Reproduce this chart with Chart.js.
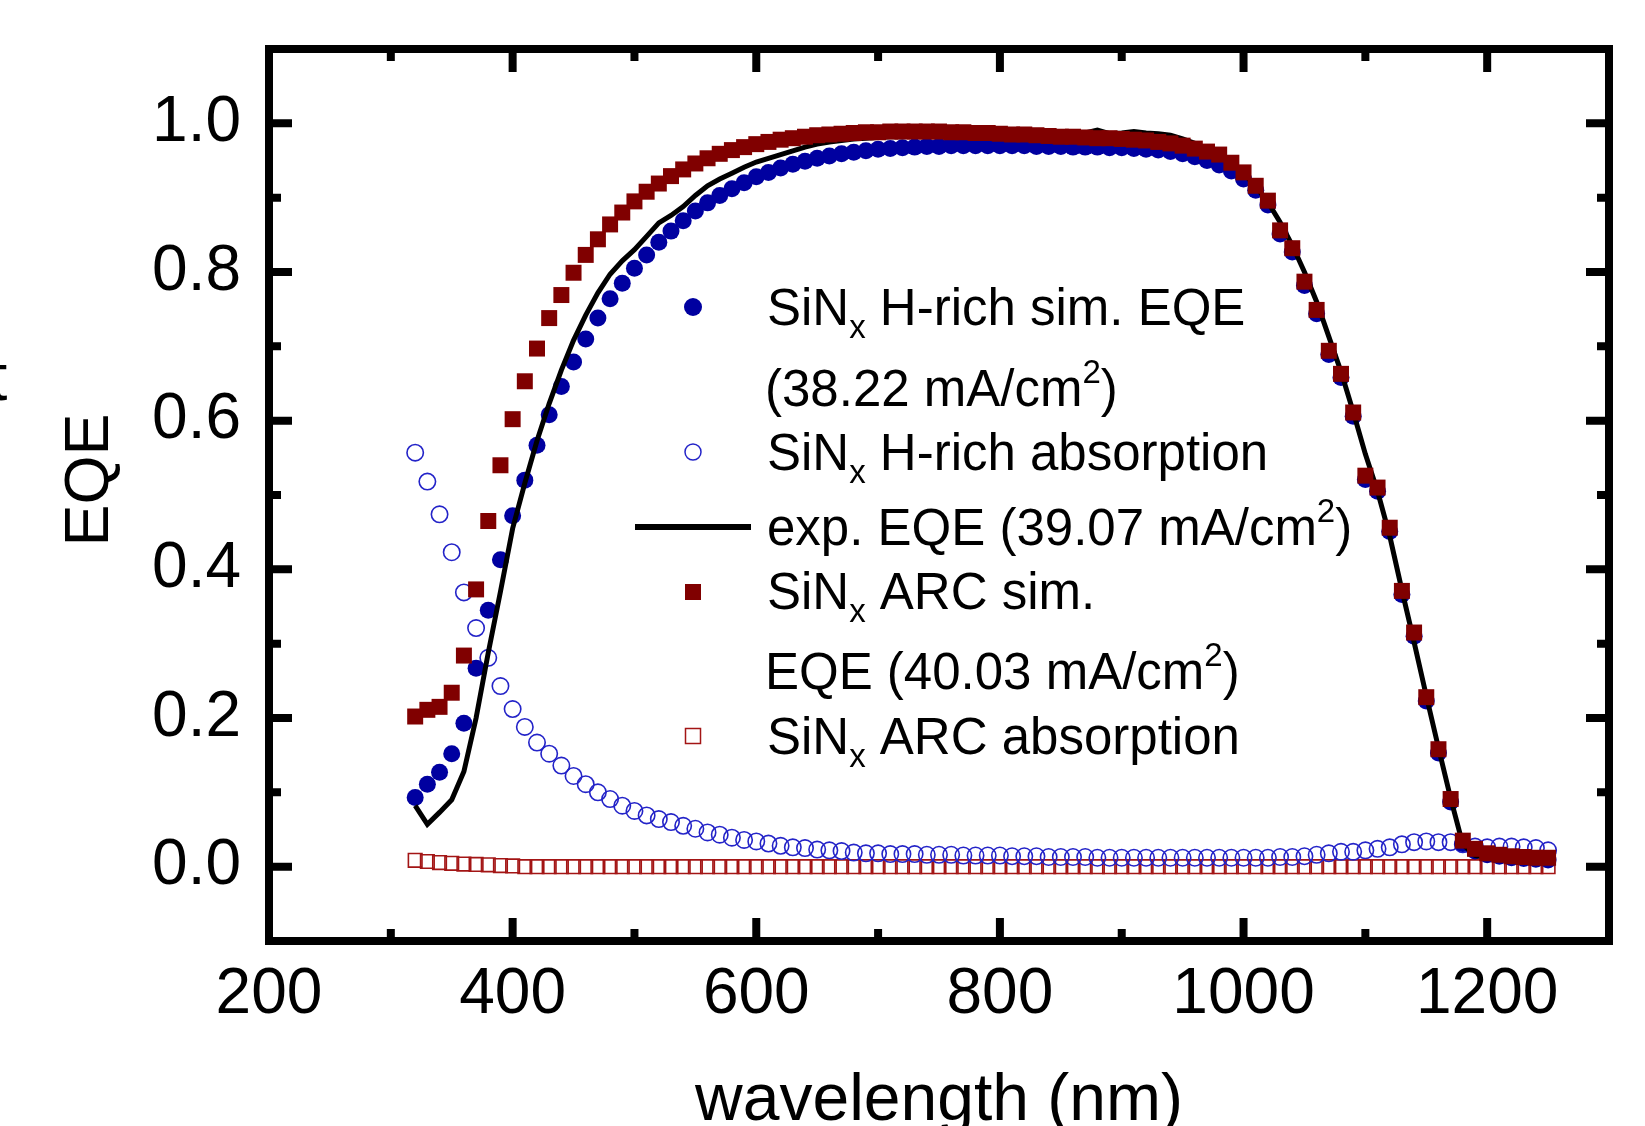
<!DOCTYPE html>
<html>
<head>
<meta charset="utf-8">
<title>EQE vs wavelength</title>
<script src="https://cdn.jsdelivr.net/npm/chart.js@4.4.0/dist/chart.umd.min.js"></script>
<style>
  html, body { margin: 0; padding: 0; background: #fff; }
  #wrap { width: 1645px; height: 1126px; position: relative; }
</style>
</head>
<body>
<div id="wrap"><canvas id="eqeChart" width="1645" height="1126"></canvas></div>
<script>
// wavelength grid (nm), one point every 10 nm
const wavelengths = [
  320, 330, 340, 350, 360, 370, 380, 390, 400, 410, 420, 430, 440, 450, 460, 470, 480, 490, 500, 510,
  520, 530, 540, 550, 560, 570, 580, 590, 600, 610, 620, 630, 640, 650, 660, 670, 680, 690, 700, 710,
  720, 730, 740, 750, 760, 770, 780, 790, 800, 810, 820, 830, 840, 850, 860, 870, 880, 890, 900, 910,
  920, 930, 940, 950, 960, 970, 980, 990, 1000, 1010, 1020, 1030, 1040, 1050, 1060, 1070, 1080, 1090, 1100, 1110,
  1120, 1130, 1140, 1150, 1160, 1170, 1180, 1190, 1200, 1210, 1220, 1230, 1240, 1250
];

// SiNx H-rich sim. EQE (filled blue circles)
const hRichSimEqe = [
  0.093, 0.111, 0.127, 0.152, 0.193, 0.267, 0.345, 0.413, 0.472, 0.520, 0.567, 0.608, 0.646, 0.679, 0.710, 0.738, 0.764, 0.785, 0.805, 0.823,
  0.840, 0.855, 0.869, 0.882, 0.893, 0.903, 0.912, 0.920, 0.928, 0.934, 0.940, 0.945, 0.949, 0.953, 0.956, 0.959, 0.961, 0.963, 0.965, 0.966,
  0.967, 0.968, 0.969, 0.969, 0.970, 0.970, 0.970, 0.970, 0.970, 0.970, 0.970, 0.969, 0.969, 0.969, 0.968, 0.968, 0.968, 0.967, 0.967, 0.966,
  0.965, 0.964, 0.962, 0.959, 0.955, 0.950, 0.944, 0.936, 0.925, 0.910, 0.890, 0.851, 0.827, 0.782, 0.744, 0.689, 0.658, 0.606, 0.521, 0.505,
  0.451, 0.366, 0.310, 0.223, 0.153, 0.087, 0.031, 0.021, 0.016, 0.014, 0.012, 0.011, 0.010, 0.009
];

// SiNx H-rich absorption (open blue circles)
const hRichAbs = [
  0.557, 0.518, 0.474, 0.423, 0.369, 0.321, 0.281, 0.243, 0.212, 0.188, 0.167, 0.152, 0.136, 0.122, 0.111, 0.100, 0.091, 0.082, 0.075, 0.069,
  0.064, 0.060, 0.055, 0.051, 0.046, 0.043, 0.039, 0.036, 0.034, 0.031, 0.028, 0.026, 0.025, 0.023, 0.022, 0.021, 0.019, 0.018, 0.018, 0.017,
  0.017, 0.017, 0.016, 0.016, 0.016, 0.015, 0.015, 0.015, 0.015, 0.014, 0.014, 0.014, 0.013, 0.013, 0.013, 0.013, 0.012, 0.012, 0.012, 0.012,
  0.012, 0.012, 0.012, 0.012, 0.012, 0.012, 0.012, 0.012, 0.012, 0.012, 0.012, 0.013, 0.013, 0.014, 0.016, 0.018, 0.020, 0.020, 0.022, 0.024,
  0.026, 0.030, 0.033, 0.034, 0.033, 0.033, 0.030, 0.027, 0.026, 0.027, 0.027, 0.026, 0.025, 0.022
];

// exp. EQE (black line)
const expEqe = [
  0.082, 0.057, 0.073, 0.090, 0.128, 0.200, 0.288, 0.370, 0.455, 0.516, 0.573, 0.623, 0.668, 0.708, 0.742, 0.772, 0.797, 0.815, 0.830, 0.848,
  0.866, 0.876, 0.888, 0.903, 0.916, 0.925, 0.933, 0.941, 0.948, 0.953, 0.958, 0.963, 0.968, 0.972, 0.975, 0.977, 0.979, 0.980, 0.981, 0.982,
  0.982, 0.983, 0.983, 0.983, 0.984, 0.984, 0.984, 0.984, 0.984, 0.984, 0.984, 0.985, 0.985, 0.985, 0.986, 0.987, 0.991, 0.986, 0.987, 0.989,
  0.987, 0.986, 0.984, 0.979, 0.973, 0.965, 0.956, 0.946, 0.933, 0.915, 0.894, 0.867, 0.836, 0.800, 0.760, 0.713, 0.666, 0.612, 0.555, 0.505,
  0.445, 0.372, 0.302, 0.230, 0.160, 0.092, 0.030, 0.015, 0.012, 0.011, 0.010, 0.009, 0.008, 0.008
];

// SiNx ARC sim. EQE (filled dark red squares)
const arcSimEqe = [
  0.202, 0.211, 0.215, 0.234, 0.284, 0.373, 0.465, 0.540, 0.602, 0.653, 0.697, 0.738, 0.769, 0.799, 0.823, 0.844, 0.864, 0.880, 0.895, 0.908,
  0.919, 0.929, 0.938, 0.946, 0.953, 0.959, 0.964, 0.968, 0.972, 0.975, 0.978, 0.980, 0.982, 0.984, 0.985, 0.986, 0.987, 0.988, 0.988, 0.989,
  0.989, 0.989, 0.989, 0.989, 0.988, 0.988, 0.987, 0.987, 0.986, 0.985, 0.985, 0.984, 0.983, 0.982, 0.982, 0.981, 0.980, 0.980, 0.979, 0.978,
  0.977, 0.975, 0.973, 0.970, 0.966, 0.962, 0.958, 0.947, 0.934, 0.916, 0.896, 0.856, 0.832, 0.787, 0.749, 0.694, 0.663, 0.611, 0.526, 0.510,
  0.456, 0.371, 0.315, 0.228, 0.158, 0.091, 0.035, 0.024, 0.018, 0.016, 0.014, 0.013, 0.012, 0.012
];

// SiNx ARC absorption (open red squares)
const arcAbs = [
  0.0085, 0.007, 0.0055, 0.0045, 0.0035, 0.003, 0.0025, 0.0015, 0.001, 0, 0, 0, 0, 0, 0, 0, 0, 0, 0, 0,
  0, 0, 0, 0, 0, 0, 0, 0, 0, 0, 0, 0, 0, 0, 0, 0, 0, 0, 0, 0,
  0, 0, 0, 0, 0, 0, 0, 0, 0, 0, 0, 0, 0, 0, 0, 0, 0, 0, 0, 0,
  0, 0, 0, 0, 0, 0, 0, 0, 0, 0, 0, 0, 0, 0, 0, 0, 0, 0, 0, 0,
  0, 0, 0, 0, 0, 0, 0, 0, 0, 0, 0, 0, 0, 0
];

const FONT = "'Liberation Sans', Arial, sans-serif";
const BLUE = '#0000a0';
const BLUE_OPEN = '#2323c8';
const RED = '#800000';
const RED_OPEN = '#a31515';

// legend rows: pieces of text, sub = subscript, sup = superscript
const legendRows = [
  { marker: 'dot', my: 307, y: 325, x: 767, text: [{ t: 'SiN' }, { t: 'x', sub: true }, { t: ' H-rich sim. EQE' }] },
  { marker: null, y: 406, x: 765, text: [{ t: '(38.22 mA/cm' }, { t: '2', sup: true }, { t: ')' }] },
  { marker: 'ring', my: 452, y: 470, x: 767, text: [{ t: 'SiN' }, { t: 'x', sub: true }, { t: ' H-rich absorption' }] },
  { marker: 'line', my: 527, y: 545, x: 767, text: [{ t: 'exp. EQE (39.07 mA/cm' }, { t: '2', sup: true }, { t: ')' }] },
  { marker: 'square', my: 592, y: 609, x: 767, text: [{ t: 'SiN' }, { t: 'x', sub: true }, { t: ' ARC sim.' }] },
  { marker: null, y: 689, x: 765, text: [{ t: 'EQE (40.03 mA/cm' }, { t: '2', sup: true }, { t: ')' }] },
  { marker: 'box', my: 736, y: 754, x: 767, text: [{ t: 'SiN' }, { t: 'x', sub: true }, { t: ' ARC absorption' }] }
];

const toPoints = (ys) => wavelengths.map((w, i) => ({ x: w, y: ys[i] }));

function drawRich(ctx, pieces, x, y) {
    let cx = x;
    pieces.forEach(p => {
        const small = p.sub || p.sup;
        ctx.font = `${small ? 33 : 51}px ${FONT}`;
        const dy = p.sub ? 13 : (p.sup ? -23 : 0);
        ctx.fillText(p.t, cx, y + dy);
        cx += ctx.measureText(p.t).width;
    });
}

// frame box + inward ticks on all four sides
const framePlugin = {
    id: 'frameTicks',
    afterDraw(chart) {
        const { ctx, chartArea: a, scales } = chart;
        ctx.save();
        ctx.strokeStyle = '#000';
        ctx.lineWidth = 8;
        ctx.lineCap = 'butt';
        ctx.lineJoin = 'miter';
        ctx.strokeRect(a.left, a.top, a.right - a.left, a.bottom - a.top);

        ctx.beginPath();
        scales.x.ticks.forEach(t => {
            const v = t.value;
            if (v <= scales.x.min || v >= scales.x.max) return;
            const len = v % 200 === 0 ? 23 : 12;
            const px = scales.x.getPixelForValue(v);
            ctx.moveTo(px, a.bottom); ctx.lineTo(px, a.bottom - len);
            ctx.moveTo(px, a.top); ctx.lineTo(px, a.top + len);
        });
        scales.y.ticks.forEach(t => {
            const k = Math.round(t.value * 10);
            if (k <= -1 || k >= 11) return;
            const len = k % 2 === 0 ? 23 : 12;
            const py = scales.y.getPixelForValue(t.value);
            ctx.moveTo(a.left, py); ctx.lineTo(a.left + len, py);
            ctx.moveTo(a.right, py); ctx.lineTo(a.right - len, py);
        });
        ctx.stroke();

        // axis titles
        ctx.fillStyle = '#000';
        ctx.textAlign = 'center';
        ctx.textBaseline = 'alphabetic';
        ctx.font = `66px ${FONT}`;
        ctx.fillText('wavelength (nm)', (a.left + a.right) / 2, 1120);
        ctx.save();
        ctx.translate(108, 480);
        ctx.rotate(-Math.PI / 2);
        ctx.font = `63px ${FONT}`;
        ctx.fillText('EQE', 0, 0);
        ctx.restore();
        // clipped letter at the left edge of the original figure
        ctx.textAlign = 'left';
        ctx.font = `66px ${FONT}`;
        ctx.fillText('t', -11, 400);

        // legend
        legendRows.forEach(r => {
            const mx = 693;
            if (r.marker === 'dot') {
                ctx.fillStyle = BLUE;
                ctx.beginPath(); ctx.arc(mx, r.my, 9, 0, Math.PI * 2); ctx.fill();
            } else if (r.marker === 'ring') {
                ctx.strokeStyle = BLUE_OPEN; ctx.lineWidth = 1.5;
                ctx.beginPath(); ctx.arc(mx, r.my, 8, 0, Math.PI * 2); ctx.stroke();
            } else if (r.marker === 'line') {
                ctx.strokeStyle = '#000'; ctx.lineWidth = 6;
                ctx.beginPath(); ctx.moveTo(635, r.my); ctx.lineTo(751, r.my); ctx.stroke();
            } else if (r.marker === 'square') {
                ctx.fillStyle = RED;
                ctx.fillRect(mx - 8, r.my - 8, 16, 16);
            } else if (r.marker === 'box') {
                ctx.strokeStyle = RED_OPEN; ctx.lineWidth = 1.5;
                ctx.strokeRect(mx - 7.5, r.my - 7.5, 15, 15);
            }
            ctx.fillStyle = '#000';
            ctx.textAlign = 'left';
            drawRich(ctx, r.text, r.x, r.y);
        });
        ctx.restore();
    }
};

Chart.defaults.font.family = FONT;
Chart.defaults.color = '#000';

new Chart(document.getElementById('eqeChart'), {
    type: 'scatter',
    data: {
        datasets: [
            {
                label: 'SiNx ARC sim. EQE',
                data: toPoints(arcSimEqe),
                pointStyle: 'rect',
                pointRadius: 11.3,
                backgroundColor: RED,
                borderWidth: 0,
                order: 0
            },
            {
                label: 'exp. EQE',
                data: toPoints(expEqe),
                showLine: true,
                borderColor: '#000',
                borderWidth: 5,
                pointRadius: 0,
                tension: 0,
                order: 1
            },
            {
                label: 'SiNx H-rich sim. EQE',
                data: toPoints(hRichSimEqe),
                pointStyle: 'circle',
                pointRadius: 8.5,
                backgroundColor: BLUE,
                borderWidth: 0,
                order: 2
            },
            {
                label: 'SiNx H-rich absorption',
                data: toPoints(hRichAbs),
                pointStyle: 'circle',
                pointRadius: 8.2,
                backgroundColor: 'rgba(0,0,0,0)',
                borderColor: BLUE_OPEN,
                borderWidth: 1.6,
                order: 3
            },
            {
                label: 'SiNx ARC absorption',
                data: toPoints(arcAbs),
                pointStyle: 'rect',
                pointRadius: 9.6,
                backgroundColor: 'rgba(0,0,0,0)',
                borderColor: RED_OPEN,
                borderWidth: 1.6,
                order: 4
            }
        ]
    },
    options: {
        responsive: false,
        animation: false,
        devicePixelRatio: 1,
        layout: { padding: { top: 49, right: 36, left: 0, bottom: 0 } },
        plugins: { legend: { display: false }, tooltip: { enabled: false } },
        scales: {
            x: {
                type: 'linear',
                min: 200,
                max: 1300,
                grid: { display: false, drawTicks: false },
                border: { display: false },
                ticks: {
                    stepSize: 100,
                    autoSkip: false,
                    maxRotation: 0,
                    padding: 16,
                    font: { size: 64 },
                    callback: v => (v % 200 === 0 && v < 1300 ? String(v) : '')
                },
                afterFit: s => { s.height = 185; s.paddingLeft = 0; s.paddingRight = 0; }
            },
            y: {
                min: -0.1,
                max: 1.1,
                grid: { display: false, drawTicks: false },
                border: { display: false },
                ticks: {
                    stepSize: 0.1,
                    autoSkip: false,
                    padding: 28,
                    font: { size: 64 },
                    callback: v => {
                        const k = Math.round(v * 10);
                        return (k >= 0 && k <= 10 && k % 2 === 0) ? (k / 10).toFixed(1) : '';
                    }
                },
                afterFit: s => { s.width = 269; s.paddingTop = 0; s.paddingBottom = 0; }
            }
        }
    },
    plugins: [framePlugin]
});
</script>
</body>
</html>
